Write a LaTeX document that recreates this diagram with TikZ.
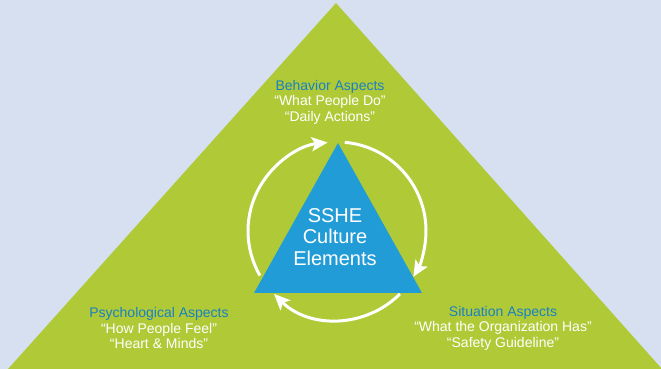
\documentclass[tikz,border=0pt]{standalone}
\usepackage{fontspec}
\setmainfont{Liberation Sans}
\usetikzlibrary{arrows.meta}
\definecolor{SSHESky}{HTML}{D7E0F0}
\definecolor{SSHEGreen}{HTML}{AFCA36}
\definecolor{SSHEBlue}{HTML}{229CD7}
\definecolor{SSHETitle}{HTML}{1A80C4}

\begin{document}
\begin{tikzpicture}[x=1pt,y=1pt,
  aspect/.style={align=center,text=white,font=\fontsize{14}{15.5}\selectfont},
  cyclearrow/.style={draw=white,line width=3pt,-{Stealth[length=16pt,width=14pt,inset=3.5pt]}}]
\useasboundingbox (0,0) rectangle (661,369);
\fill[SSHESky] (0,0) rectangle (661,369);
\clip (0,0) rectangle (661,369);
\fill[SSHEGreen] (8,0) -- (336,366) -- (662,0) -- cycle;
\fill[SSHEBlue] (254,76) -- (338,226) -- (422,76) -- cycle;
\coordinate (hub) at (337,138);
\draw[cyclearrow] (hub) ++(210:89pt) arc[start angle=210,end angle=96,radius=89pt];
\draw[cyclearrow] (hub) ++(85:89pt) arc[start angle=85,end angle=-31,radius=89pt];
\draw[cyclearrow] (hub) ++(-45:89pt) arc[start angle=-45,end angle=-135,radius=89pt];
\node[align=center,text=white,font=\fontsize{20}{21.5}\selectfont] (core) at (335,132) {SSHE\\Culture\\Elements};
\node[aspect] (behavior) at (330,267) {\textcolor{SSHETitle}{Behavior Aspects}\\“What People Do”\\“Daily Actions”};
\node[aspect] (psycho) at (159,41) {\textcolor{SSHETitle}{Psychological Aspects}\\“How People Feel”\\“Heart \& Minds”};
\node[aspect] (situation) at (503,41) {\textcolor{SSHETitle}{Situation Aspects}\\“What the Organization Has”\\“Safety Guideline”};
\end{tikzpicture}
\end{document}
